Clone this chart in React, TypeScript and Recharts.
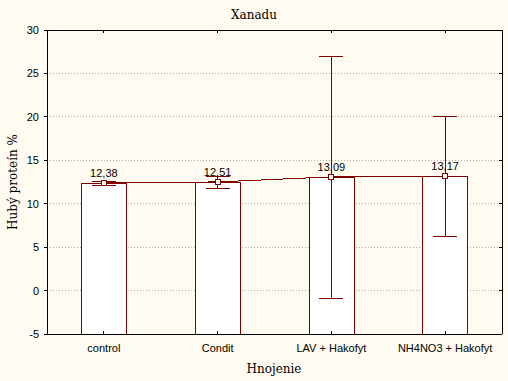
import { ComposedChart, Bar, Line, XAxis, YAxis, CartesianGrid, ErrorBar, LabelList, Label } from "recharts";

const categories = ["control", "Condit", "LAV + Hakofyt", "NH4NO3 + Hakofyt"];
const means = [12.38, 12.51, 13.09, 13.17];
const ciLow = [12.1, 11.8, -0.9, 6.2];
const ciHigh = [12.6, 13.1, 26.9, 20.0];
const yTicks = [-5, 0, 5, 10, 15, 20, 25, 30];
const Y_MIN = -5;
const Y_MAX = 30;

const RED = "#800000";
const BG = "#fffbf0";
const SANS = "Arial, 'Liberation Sans', sans-serif";
const SERIF = "'DejaVu Serif', serif";

const data = categories.map((name, i) => ({
  name,
  mean: means[i],
  range: [Y_MIN, means[i]],
  err: [means[i] - ciLow[i], ciHigh[i] - means[i]],
}));

const fmt = (v: any) => Number(v).toFixed(2).replace(".", ",");

const BarShape = (props: any) => {
  const { x, y, width, height } = props;
  const l = Math.round(x) + 0.5;
  const r = Math.round(x + width) + 0.5;
  const t = Math.round(y) + 0.5;
  const b = y + height;
  return (
    <g>
      <rect x={l} y={t} width={r - l} height={b - t} fill="#fff" />
      <path d={`M${l},${b}V${t}H${r}V${b}`} stroke={RED} fill="none" strokeWidth={1} />
    </g>
  );
};

const MeanDot = (props: any) => {
  const { cx, cy, index } = props;
  return (
    <rect key={`dot-${index}`} x={Math.round(cx) - 2.5} y={Math.round(cy) - 2.5} width={5} height={5} fill="#fff" stroke={RED} />
  );
};

const BottomTick = ({ x, y, payload }: any) => (
  <g>
    <line x1={x} x2={x} y1={y} y2={y - 3} stroke="#000" />
    <text x={x} y={y + 18} textAnchor="middle" fontSize={11} fontFamily={SANS} fill="#000">
      {payload.value}
    </text>
  </g>
);

const TopTick = ({ x, y }: any) => <line x1={x} x2={x} y1={y} y2={y + 3} stroke="#000" />;

const LeftTick = ({ x, y, payload }: any) => (
  <g>
    <line x1={x - 3} x2={x} y1={y} y2={y} stroke="#000" />
    <text x={x - 8} y={y + 4} textAnchor="end" fontSize={11} fontFamily={SANS} fill="#000">
      {payload.value}
    </text>
  </g>
);

const RightTick = ({ x, y }: any) => <line x1={x - 3} x2={x} y1={y} y2={y} stroke="#000" />;

export default function App() {
  return (
    <div style={{ position: "absolute", left: 0, top: 0, width: 508, height: 381, background: BG }}>
      <ComposedChart
        width={508}
        height={381}
        data={data}
        margin={{ top: 0, right: 0, bottom: 0, left: 0 }}
        style={{ shapeRendering: "crispEdges" }}
      >
        <CartesianGrid vertical={false} stroke="#b0b0b0" strokeDasharray="1 2" />
        <XAxis
          dataKey="name"
          height={47}
          tickSize={0}
          tickMargin={0}
          tickLine={false}
          axisLine={{ stroke: "#000" }}
          tick={<BottomTick />}
          interval={0}
        >
          <Label
            content={() => (
              <text x={274} y={373} textAnchor="middle" fontSize={12} fontFamily={SERIF} fill="#000">
                Hnojenie
              </text>
            )}
          />
        </XAxis>
        <XAxis
          xAxisId="top"
          orientation="top"
          dataKey="name"
          height={30}
          tickSize={0}
          tickMargin={0}
          tickLine={false}
          axisLine={{ stroke: "#000" }}
          tick={<TopTick />}
          interval={0}
        >
          <Label
            content={() => (
              <text x={254} y={19} textAnchor="middle" fontSize={12} fontFamily={SERIF} fill="#000">
                Xanadu
              </text>
            )}
          />
        </XAxis>
        <YAxis
          type="number"
          domain={[Y_MIN, Y_MAX]}
          ticks={yTicks}
          width={47}
          tickSize={0}
          tickMargin={0}
          tickLine={false}
          axisLine={{ stroke: "#000" }}
          tick={<LeftTick />}
          interval={0}
          allowDataOverflow
        >
          <Label
            content={() => (
              <text
                x={17}
                y={182}
                transform="rotate(-90 17 182)"
                textAnchor="middle"
                fontSize={12}
                fontFamily={SERIF}
                fill="#000"
              >
                Hubý proteín %
              </text>
            )}
          />
        </YAxis>
        <YAxis
          yAxisId="right"
          orientation="right"
          type="number"
          domain={[Y_MIN, Y_MAX]}
          ticks={yTicks}
          width={6}
          tickSize={0}
          tickMargin={0}
          tickLine={false}
          axisLine={{ stroke: "#000" }}
          tick={<RightTick />}
          interval={0}
          allowDataOverflow
        />
        <Bar dataKey="range" barSize={45} shape={<BarShape />} isAnimationActive={false} />
        <Line
          dataKey="mean"
          stroke={RED}
          strokeWidth={1}
          dot={<MeanDot />}
          activeDot={false}
          isAnimationActive={false}
        >
          <ErrorBar dataKey="err" width={12} stroke={RED} strokeWidth={1} />
          <LabelList dataKey="mean" position="top" offset={6} formatter={fmt} fontSize={11} fontFamily={SANS} fill="#000" />
        </Line>
      </ComposedChart>
    </div>
  );
}
